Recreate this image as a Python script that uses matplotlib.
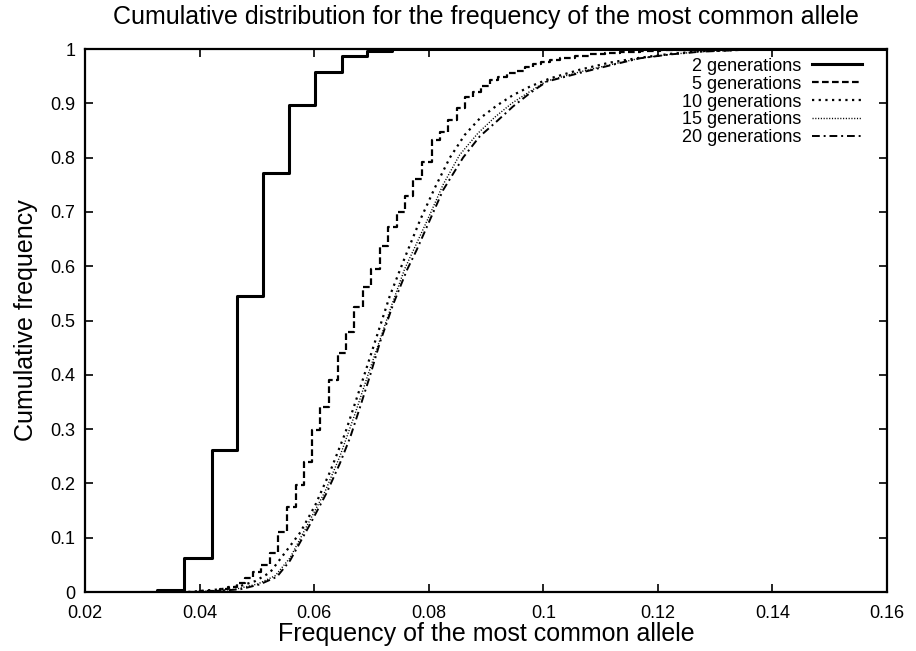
import matplotlib
matplotlib.use("Agg")
import matplotlib.pyplot as plt

plt.rcParams['font.family'] = ['Liberation Sans', 'DejaVu Sans']

# 2 generations (step function)
gen2_x = [0.0300, 0.0326, 0.0373, 0.0421, 0.0466, 0.0510, 0.0556, 0.0601, 0.0648, 0.0692, 0.0736, 0.1600]
gen2_y = [0.000, 0.003, 0.063, 0.262, 0.545, 0.772, 0.897, 0.957, 0.988, 0.997, 1.000, 1.000]

# 5 generations (step function)
gen5_x = [0.0380, 0.0401, 0.0436, 0.0450, 0.0465, 0.0479, 0.0494, 0.0508, 0.0523, 0.0537,
          0.0553, 0.0568, 0.0582, 0.0596, 0.0610, 0.0626, 0.0642, 0.0656, 0.0670, 0.0685,
          0.0700, 0.0715, 0.0729, 0.0744, 0.0758, 0.0773, 0.0788, 0.0805, 0.0820, 0.0834,
          0.0849, 0.0863, 0.0878, 0.0892, 0.0907, 0.0921, 0.0936, 0.0952, 0.0968, 0.0982,
          0.0996, 0.1012, 0.1029, 0.1055, 0.1081, 0.1108, 0.1134, 0.1169, 0.1204, 0.1256,
          0.1308, 0.1600]
gen5_y = [0.000, 0.002, 0.005, 0.009, 0.016, 0.025, 0.036, 0.050, 0.071, 0.111,
          0.157, 0.197, 0.240, 0.299, 0.340, 0.390, 0.441, 0.479, 0.524, 0.561,
          0.594, 0.637, 0.673, 0.700, 0.730, 0.760, 0.792, 0.832, 0.848, 0.869,
          0.891, 0.912, 0.921, 0.932, 0.943, 0.949, 0.955, 0.960, 0.966, 0.973,
          0.976, 0.980, 0.983, 0.987, 0.990, 0.992, 0.994, 0.996, 0.998, 0.999,
          1.000, 1.000]

# 10 generations
gen10_x = [0.0380, 0.0401, 0.0436, 0.0471, 0.0497, 0.0523, 0.0546, 0.0576, 0.0602, 0.0628,
           0.0654, 0.0680, 0.0706, 0.0732, 0.0758, 0.0785, 0.0811, 0.0837, 0.0863, 0.0889,
           0.0919, 0.0947, 0.0977, 0.1012, 0.1064, 0.1116, 0.1169, 0.1221, 0.1273, 0.1361,
           0.1448, 0.1600]
gen10_y = [0.000, 0.002, 0.005, 0.011, 0.020, 0.036, 0.068, 0.110, 0.160, 0.222,
           0.292, 0.375, 0.460, 0.545, 0.615, 0.685, 0.745, 0.800, 0.842, 0.872,
           0.896, 0.915, 0.931, 0.946, 0.962, 0.975, 0.984, 0.991, 0.996, 0.999,
           1.000, 1.000]

# 15 generations
gen15_x = [0.0385, 0.0409, 0.0462, 0.0502, 0.0532, 0.0558, 0.0589, 0.0619, 0.0645, 0.0672,
           0.0694, 0.0715, 0.0736, 0.0758, 0.0778, 0.0802, 0.0825, 0.0854, 0.0886, 0.0916,
           0.0945, 0.0977, 0.1006, 0.1064, 0.1121, 0.1169, 0.1221, 0.1273, 0.1361, 0.1448,
           0.1600]
gen15_y = [0.000, 0.001, 0.005, 0.015, 0.030, 0.063, 0.125, 0.185, 0.250, 0.330,
           0.400, 0.465, 0.530, 0.595, 0.640, 0.695, 0.750, 0.805, 0.845, 0.875,
           0.900, 0.922, 0.941, 0.958, 0.972, 0.983, 0.990, 0.995, 0.999, 1.000,
           1.000]

# 20 generations
gen20_x = [0.0390, 0.0418, 0.0471, 0.0505, 0.0535, 0.0558, 0.0593, 0.0622, 0.0645, 0.0663,
           0.0680, 0.0698, 0.0715, 0.0738, 0.0762, 0.0779, 0.0802, 0.0825, 0.0860, 0.0889,
           0.0919, 0.0947, 0.0977, 0.1006, 0.1064, 0.1121, 0.1169, 0.1221, 0.1273, 0.1361,
           0.1448, 0.1600]
gen20_y = [0.000, 0.001, 0.005, 0.014, 0.028, 0.058, 0.125, 0.183, 0.237, 0.285,
           0.340, 0.400, 0.460, 0.530, 0.593, 0.630, 0.685, 0.740, 0.800, 0.839,
           0.867, 0.894, 0.919, 0.940, 0.956, 0.971, 0.983, 0.990, 0.995, 0.999,
           1.000, 1.000]

fig = plt.figure(figsize=(9.16, 6.51), dpi=100)
ax = fig.add_axes([0.0928, 0.0906, 0.8755, 0.8341])

ax.plot(gen2_x, gen2_y, drawstyle='steps-post', color='black', lw=2.2, label='2 generations')
ax.plot(gen5_x, gen5_y, drawstyle='steps-post', color='black', lw=1.6,
        linestyle=(0, (3, 1.5)), label='5 generations')
ax.plot(gen10_x, gen10_y, color='black', lw=1.6, linestyle=(0, (1, 2)), label='10 generations')
ax.plot(gen15_x, gen15_y, color='black', lw=1.0, linestyle=(0, (0.8, 1.2)), label='15 generations')
ax.plot(gen20_x, gen20_y, color='black', lw=1.4, linestyle=(0, (4, 2, 1, 2)), label='20 generations')

ax.set_xlim(0.02, 0.16)
ax.set_ylim(0, 1)
ax.set_xticks([0.02, 0.04, 0.06, 0.08, 0.1, 0.12, 0.14, 0.16])
ax.set_xticklabels(['0.02', '0.04', '0.06', '0.08', '0.1', '0.12', '0.14', '0.16'])
ax.set_yticks([0, 0.1, 0.2, 0.3, 0.4, 0.5, 0.6, 0.7, 0.8, 0.9, 1])
ax.set_yticklabels(['0', '0.1', '0.2', '0.3', '0.4', '0.5', '0.6', '0.7', '0.8', '0.9', '1'])
ax.tick_params(direction='in', length=6, width=1.2, top=True, right=True, labelsize=13)
ax.tick_params(axis='x', pad=9)
ax.tick_params(axis='y', pad=7)
for s in ax.spines.values():
    s.set_linewidth(1.6)

ax.set_title('Cumulative distribution for the frequency of the most common allele', fontsize=18, pad=18)
ax.set_xlabel('Frequency of the most common allele', fontsize=18, labelpad=0)
ax.set_ylabel('Cumulative frequency', fontsize=18, labelpad=9)

ax.legend(loc='upper right', bbox_to_anchor=(0.969, 0.984), frameon=False, markerfirst=False,
          fontsize=13, handlelength=2.8, labelspacing=0.05, borderaxespad=0.0, borderpad=0.0,
          handletextpad=0.55)

fig.savefig('out.png', dpi=100)
